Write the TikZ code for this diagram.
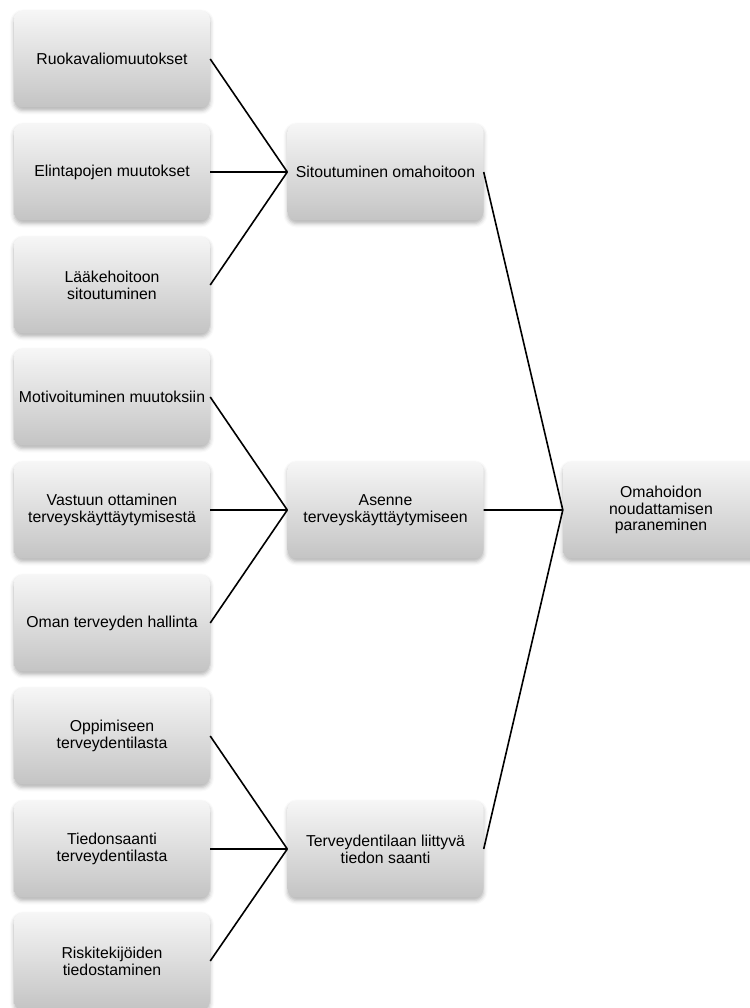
\documentclass[tikz,border=0pt]{standalone}
\usepackage{fontspec}
\setmainfont{Liberation Sans}
\usetikzlibrary{shadows.blur}
\definecolor{boxtop}{RGB}{246,246,246}
\definecolor{boxbottom}{RGB}{196,196,196}
\tikzset{
    box/.style={rectangle, rounded corners=9pt, minimum width=196pt,
        minimum height=97pt, inner sep=2pt, align=center,
        top color=boxtop, bottom color=boxbottom,
        font=\fontsize{15.8}{16.8}\selectfont,
        blur shadow={shadow xshift=0pt, shadow yshift=-3pt,
            shadow blur radius=4pt, shadow opacity=30}},
    link/.style={line width=1.6pt, black}
}
\begin{document}
\begin{tikzpicture}[x=1pt, y=-1pt]
    \useasboundingbox (0,0) rectangle (749,1008);
    % left column
    \node[box] (ruoka) at (112,59) {Ruokavaliomuutokset};
    \node[box] (elin) at (112,172) {Elintapojen muutokset};
    \node[box] (laake) at (112,285) {Lääkehoitoon\\sitoutuminen};
    \node[box] (motiv) at (112,397) {Motivoituminen muutoksiin};
    \node[box] (vastuu) at (112,510) {Vastuun ottaminen\\terveyskäyttäytymisestä};
    \node[box] (hallinta) at (112,623) {Oman terveyden hallinta};
    \node[box] (oppi) at (112,736) {Oppimiseen\\terveydentilasta};
    \node[box] (tieto) at (112,849) {Tiedonsaanti\\terveydentilasta};
    \node[box] (riski) at (112,961) {Riskitekijöiden\\tiedostaminen};
    % middle column
    \node[box] (sitou) at (385.5,172) {Sitoutuminen omahoitoon};
    \node[box] (asenne) at (385.5,510) {Asenne\\terveyskäyttäytymiseen};
    \node[box] (saanti) at (385.5,849) {Terveydentilaan liittyvä\\tiedon saanti};
    % result
    \node[box] (omahoito) at (661,510) {Omahoidon\\noudattamisen\\paraneminen};
    \draw[link]
        (ruoka.east)--(sitou.west)
        (elin.east)--(sitou.west)
        (laake.east)--(sitou.west)
        (motiv.east)--(asenne.west)
        (vastuu.east)--(asenne.west)
        (hallinta.east)--(asenne.west)
        (oppi.east)--(saanti.west)
        (tieto.east)--(saanti.west)
        (riski.east)--(saanti.west);
    \draw[link]
        (sitou.east)--(omahoito.west)
        (asenne.east)--(omahoito.west)
        (saanti.east)--(omahoito.west);
\end{tikzpicture}
\end{document}
